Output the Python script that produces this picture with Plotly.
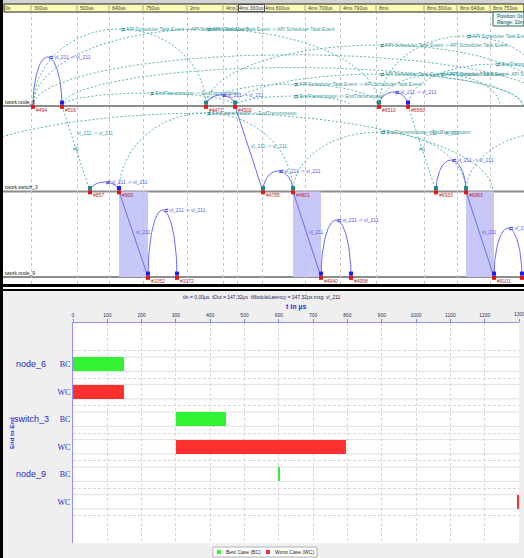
import numpy as np
import plotly.graph_objects as go

W, H = 524, 558

# ---------------- end-to-end latency (µs) ----------------
row_labels = ["BC", "WC", "BC", "WC", "BC", "WC"]
group_names = ["node_6", "switch_3", "node_9"]
bc_start = [0.0, 300.0, 598.0]
bc_len = [147.32, 147.32, 4.0]
wc_start = [0.0, 300.0, 1295.0]
wc_len = [147.32, 496.0, 4.0]
x_ticks = list(range(0, 1301, 100))
summary = "tIn = 0,00µs  tOut = 147,32µs  tModuleLatency = 147,32µs msg: vl_211"

# ---------------- trace strip ----------------
header_pos = [2, 31, 77, 109, 143, 187, 223, 237, 262, 305, 340, 376, 424, 457, 490]
header_txt = ["0s", "300us", "500us", "640us", "750us", "2ms", "4ms 34us", "4ms 300us",
              "4ms 600us", "4ms 700us", "4ms 790us", "8ms", "8ms 300us", "8ms 640us", "8ms 750us"]
lane_names = ["twork.node_6", "twork.switch_3", "twork.node_9"]

event_ids = ["#494", "#516", "#4477", "#4502", "#6510", "#6560",
             "#857", "#909", "#4785", "#4801", "#6933", "#6963",
             "#1052", "#1072", "#4940", "#4958", "#9101", "#9121"]
event_pos = [33, 62, 206, 235, 379, 408,
             90, 119, 263, 293, 436, 466,
             148, 177, 321, 351, 494, 522]
event_lane = [0, 0, 0, 0, 0, 0, 1, 1, 1, 1, 1, 1, 2, 2, 2, 2, 2, 2]
event_mark = ["", "b", "t", "t", "t", "b", "t", "b", "t", "t", "t", "t",
              "b", "b", "b", "b", "b", "b"]

# message arcs inside one lane (solid blue)
msg_arc_x0 = [33, 206, 379, 90, 263, 436, 148, 321, 494]
msg_arc_x1 = [62, 235, 408, 119, 293, 466, 177, 351, 522]
msg_arc_lane = [0, 0, 0, 1, 1, 1, 2, 2, 2]
msg_arc_top = [-0.573, -0.129, -0.164, 0.889, 0.760, 0.632, 1.216, 1.333, 1.427]

# message hops between lanes (solid blue)
hop_x0 = [235, 119, 293, 466]
hop_l0 = [0, 1, 1, 1]
hop_x1 = [263, 148, 321, 494]
hop_l1 = [1, 2, 2, 2]
hop_txt = ["vl_211 -> vl_211", "vl_211", "vl_211", "vl_211"]

# frame hops between lanes (dashed teal)
frame_x0 = [62, 408]
frame_x1 = [90, 436]
frame_l0 = [0, 0]
frame_l1 = [1, 1]

# scheduler / transmission event arcs (dashed teal)
ev_arc_x0 = [33, 33, 206, 379, 235, 379, 206, 235, 62, 408, 119, -80, 293, 466, 33, 62]
ev_arc_x1 = [206, 379, 552, 552, 523, 500, 379, 351, 235, 582, 293, 493, 466, 639, 552, 523]
ev_arc_lane = [0, 0, 0, 0, 0, 0, 0, 0, 0, 0, 1, 1, 1, 1, 0, 0]
ev_arc_top = [-0.901, -0.901, -0.713, -0.819, -0.374, -0.374, -0.257, -0.117, -0.152,
              -0.491, 0.082, 0.082, 0.304, 0.304, -0.60, -0.45]
API = "API Scheduler Task Event -> API Scheduler Task Event"
ETX = "EndTransmission -> EndTransmission"
ev_arc_txt = [API, API, API, API, API, API, API, ETX, ETX, ETX, ETX, "", ETX, "", "", ""]

TEAL = "#58b4b4"
BLUE = "#6a6aff"
FONT = "Liberation Sans"


def px(x):
    return x / W


def py(y):
    return 1 - y / H


def arc_xy(x0, x1, lane, top, n=70):
    t = np.linspace(np.pi, 0, n)
    cx, rx = (x0 + x1) / 2, (x1 - x0) / 2
    return cx + rx * np.cos(t), lane - (lane - top) * np.sin(t)


fig = go.Figure()
shapes = []
ann = []

# ---------- panel backgrounds & frames ----------
shapes += [
    dict(type="rect", xref="paper", yref="paper", x0=0, x1=1, y0=py(4), y1=1,
         fillcolor="#d4d4d4", line_width=0, layer="below"),
    dict(type="rect", xref="paper", yref="paper", x0=0, x1=1, y0=0, y1=py(291),
         fillcolor="#efefef", line_width=0, layer="below"),
    dict(type="rect", xref="paper", yref="paper", x0=px(73), x1=px(519), y0=py(543), y1=py(323),
         fillcolor="white", line_width=0, layer="below"),
    # black frame pieces
    dict(type="rect", xref="paper", yref="paper", x0=0, x1=1, y0=py(287), y1=py(284),
         fillcolor="black", line_width=0),
    dict(type="rect", xref="paper", yref="paper", x0=0, x1=1, y0=py(291), y1=py(289),
         fillcolor="black", line_width=0),
    # time header band
    dict(type="rect", xref="paper", yref="paper", x0=px(4), x1=1, y0=py(12), y1=py(4),
         fillcolor="#fbfbb4", line=dict(color="#202020", width=1)),
    # position box
    dict(type="rect", xref="paper", yref="paper", x0=px(493), x1=px(524), y0=py(26), y1=py(12),
         fillcolor="#f2fafa", line=dict(color="#3a6060", width=1)),
]
for p in header_pos[1:]:
    shapes.append(dict(type="line", xref="x2", yref="paper", x0=p, x1=p, y0=py(12), y1=py(4),
                       line=dict(color="#a8a890", width=1)))
for p, t in zip(header_pos, header_txt):
    extra = {}
    if t == "4ms 300us":
        extra = dict(bgcolor="#f6f6ec", bordercolor="#505050", borderwidth=1, borderpad=0)
    ann.append(dict(x=p + 1, y=py(8.3), xref="x2", yref="paper", text=t, showarrow=False,
                    xanchor="left", yanchor="middle", font=dict(family=FONT, size=5, color="#404030"),
                    **extra))
ann.append(dict(x=px(495), y=py(16), xref="paper", yref="paper", text="Position: 0s", showarrow=False,
                xanchor="left", yanchor="middle", font=dict(family=FONT, size=5, color="#204848")))
ann.append(dict(x=px(495), y=py(22.5), xref="paper", yref="paper", text="Range: 10ms 1", showarrow=False,
                xanchor="left", yanchor="middle", font=dict(family=FONT, size=5, color="#204848")))

# ---------- trace strip ----------
# shaded transfer windows switch -> node
for a, la, b, lb in zip(hop_x0[1:], hop_l0[1:], hop_x1[1:], hop_l1[1:]):
    shapes.append(dict(type="rect", xref="x2", yref="y2", x0=a, x1=b, y0=la, y1=lb,
                       fillcolor="#c8c8f8", line_width=0, layer="below"))
# lanes
for i, name in enumerate(lane_names):
    shapes.append(dict(type="line", xref="paper", yref="y2", x0=px(3), x1=1, y0=i, y1=i,
                       line=dict(color="#8c8c8c", width=2), layer="below"))
    ann.append(dict(x=3, y=i, xref="x2", yref="y2", yshift=4, text=name, showarrow=False,
                    xanchor="left", yanchor="middle", font=dict(family=FONT, size=5, color="#202020")))

# dashed event arcs
tx, ty = [], []
for a, b, l, tp, txt in zip(ev_arc_x0, ev_arc_x1, ev_arc_lane, ev_arc_top, ev_arc_txt):
    xs, ys = arc_xy(a, b, l, tp)
    tx += list(xs) + [None]
    ty += list(ys) + [None]
    if txt:
        ann.append(dict(x=(a + b) / 2 - 1, y=tp, xref="x2", yref="y2", text="⇄ " + txt, showarrow=False,
                        xanchor="left", yanchor="middle", font=dict(family=FONT, size=5, color="#3e9a9a")))
for a, b, la, lb in zip(frame_x0, frame_x1, frame_l0, frame_l1):
    tx += [a, b, None]
    ty += [la, lb, None]
    ann.append(dict(x=a + (b - a) * 0.32 + 4, y=la + (lb - la) * 0.32, xref="x2", yref="y2",
                    text="vl_211 -> vl_211", showarrow=False, xanchor="left", yanchor="middle",
                    font=dict(family=FONT, size=5, color="#3e9a9a")))
    ann.append(dict(x=a + (b - a) * 0.5, y=la + (lb - la) * 0.5, xref="x2", yref="y2",
                    text="#0", showarrow=False, xanchor="center", yanchor="middle",
                    font=dict(family=FONT, size=5, color="#3e9a9a")))
fig.add_trace(go.Scatter(x=tx, y=ty, mode="lines", xaxis="x2", yaxis="y2", hoverinfo="skip",
                         line=dict(color=TEAL, width=1, dash="2px,2px"), showlegend=False))

# solid message arcs and hops
bx, by = [], []
for a, b, l, tp in zip(msg_arc_x0, msg_arc_x1, msg_arc_lane, msg_arc_top):
    xs, ys = arc_xy(a, b, l, tp)
    bx += list(xs) + [None]
    by += list(ys) + [None]
    ann.append(dict(x=(a + b) / 2 - 1, y=tp, xref="x2", yref="y2", text="⇄ vl_211 -> vl_211",
                    showarrow=False, xanchor="left", yanchor="middle",
                    font=dict(family=FONT, size=5, color="#5a5af0")))
for a, la, b, lb, txt in zip(hop_x0, hop_l0, hop_x1, hop_l1, hop_txt):
    bx += [a, b, None]
    by += [la, lb, None]
    ann.append(dict(x=a + (b - a) * 0.47 + 1, y=la + (lb - la) * 0.47, xref="x2", yref="y2",
                    text=txt, showarrow=False, xanchor="left", yanchor="middle",
                    font=dict(family=FONT, size=5, color="#5a5af0" if txt == "vl_211" else "#3e9a9a")))
fig.add_trace(go.Scatter(x=bx, y=by, mode="lines", xaxis="x2", yaxis="y2", hoverinfo="skip",
                         line=dict(color=BLUE, width=1), showlegend=False))

# event markers
mk = {"b": "#1c1cff", "t": "#1a8a8a"}
ax_, ay_, ac_ = [], [], []
for p, l, m in zip(event_pos, event_lane, event_mark):
    if m:
        ax_.append(p)
        ay_.append(l - 0.04)
        ac_.append(mk[m])
fig.add_trace(go.Scatter(x=ax_, y=ay_, mode="markers", xaxis="x2", yaxis="y2", hoverinfo="skip",
                         marker=dict(symbol="square", size=4, color=ac_), showlegend=False))
fig.add_trace(go.Scatter(x=event_pos, y=[l + 0.01 for l in event_lane], mode="markers",
                         xaxis="x2", yaxis="y2", hoverinfo="skip",
                         marker=dict(symbol="square", size=4, color="#e01818"), showlegend=False))
for eid, p, l in zip(event_ids, event_pos, event_lane):
    ann.append(dict(x=p + 1, y=l, xref="x2", yref="y2", yshift=-4, text=eid, showarrow=False,
                    xanchor="left", yanchor="middle", font=dict(family=FONT, size=5, color="#b82828")))

# ---------- end-to-end chart ----------
bc_rows = [1, 3, 5]
wc_rows = [2, 4, 6]
for r in range(1, len(row_labels) + 1):
    for d in (-0.26, 0.26):
        shapes.append(dict(type="line", xref="x", yref="y", x0=0, x1=1300, y0=r + d, y1=r + d,
                           line=dict(color="#e0e0e0", width=1), layer="below"))

fig.add_trace(go.Bar(orientation="h", y=bc_rows, x=bc_len, base=bc_start, width=0.5,
                     marker=dict(color="#33f233", line_width=0), name="Best Case (BC)",
                     showlegend=False, hoverinfo="skip"))
fig.add_trace(go.Bar(orientation="h", y=wc_rows, x=wc_len, base=wc_start, width=0.5,
                     marker=dict(color="#ff3030", line_width=0), name="Worst Case (WC)",
                     showlegend=False, hoverinfo="skip"))

for g, r in zip(group_names, bc_rows):
    ann.append(dict(x=px(31), y=r, xref="paper", yref="y", text=g, showarrow=False,
                    xanchor="center", yanchor="middle", font=dict(family=FONT, size=9, color="#2a2ad0")))
ann.append(dict(x=px(262), y=py(296.5), xref="paper", yref="paper", text=summary, showarrow=False,
                xanchor="center", yanchor="middle", font=dict(family=FONT, size=5, color="#20206a")))
ann.append(dict(x=px(296), y=py(306.5), xref="paper", yref="paper", text="<b>t in µs</b>",
                showarrow=False, xanchor="center", yanchor="middle",
                font=dict(family=FONT, size=7, color="#2a2ae0")))
ann.append(dict(x=px(12), y=py(433), xref="paper", yref="paper", text="<b>End to End</b>",
                textangle=-90, showarrow=False, xanchor="center", yanchor="middle",
                font=dict(family=FONT, size=6, color="#2a2ae0")))
# last tick label sits on the right edge of the page
ann.append(dict(x=x_ticks[-1], y=py(314), xref="x", yref="paper", text=str(x_ticks[-1]),
                showarrow=False, xanchor="center", yanchor="middle",
                font=dict(family=FONT, size=5, color="#303060")))

# legend box
shapes += [
    dict(type="rect", xref="paper", yref="paper", x0=px(213), x1=px(317), y0=py(557), y1=py(547),
         fillcolor="white", line=dict(color="#b4b4b4", width=1)),
    dict(type="rect", xref="paper", yref="paper", x0=px(217), x1=px(221), y0=py(554), y1=py(550),
         fillcolor="#33f233", line_width=0),
    dict(type="rect", xref="paper", yref="paper", x0=px(266), x1=px(270), y0=py(554), y1=py(550),
         fillcolor="#ff3030", line_width=0),
]
ann.append(dict(x=px(224), y=py(552), xref="paper", yref="paper", text="Best Case (BC)", showarrow=False,
                xanchor="left", yanchor="middle", font=dict(family=FONT, size=5, color="#202020")))
ann.append(dict(x=px(273), y=py(552), xref="paper", yref="paper", text="Worst Case (WC)", showarrow=False,
                xanchor="left", yanchor="middle", font=dict(family=FONT, size=5, color="#202020")))

fig.update_layout(
    width=W, height=H, autosize=False,
    margin=dict(l=0, r=0, t=0, b=0),
    paper_bgcolor="white", plot_bgcolor="rgba(0,0,0,0)",
    bargap=0, barmode="overlay",
    shapes=shapes, annotations=ann,
    xaxis=dict(domain=[px(73), px(519)], range=[0, 1300], side="top", anchor="y",
               tickmode="array", tickvals=x_ticks,
               ticktext=[str(v) for v in x_ticks[:-1]] + [""],
               tickfont=dict(family=FONT, size=5, color="#303060"),
               ticks="outside", ticklen=3, tickcolor="#8080ff",
               showline=True, linecolor="#9090ff", linewidth=1,
               showgrid=True, gridcolor="#d8d8d8", griddash="3px,2px", zeroline=False, fixedrange=True),
    yaxis=dict(domain=[py(543), py(323)], range=[7.5, -0.5], anchor="x",
               tickmode="array", tickvals=list(range(1, 7)), ticktext=row_labels,
               tickfont=dict(family="Liberation Serif", size=8, color="#2a2ad0"),
               ticks="", showline=True, linecolor="#9090ff", linewidth=1,
               showgrid=False, zeroline=False, fixedrange=True,
               minor=dict(tickmode="array", tickvals=[k + 0.5 for k in range(8)],
                          showgrid=True, gridcolor="#d8d8d8", griddash="3px,2px", ticks="")),
    yaxis3=dict(overlaying="y", anchor="x", side="left", range=[7.5, -0.5],
                tickmode="array", tickvals=[0.5, 2.5, 4.5, 6.5, 7.5], showticklabels=False,
                ticks="outside", ticklen=4, tickcolor="#8080ff", showgrid=False,
                showline=False, zeroline=False, fixedrange=True),
    xaxis2=dict(domain=[0, 1], range=[0, W], anchor="y2", tickmode="array", tickvals=header_pos[1:],
                showticklabels=False, ticks="", showline=False, zeroline=False,
                showgrid=True, gridcolor="#c4c4c4", griddash="dot", fixedrange=True),
    yaxis2=dict(domain=[py(287), py(5)], range=[2.117, -1.181], anchor="x2",
                visible=False, fixedrange=True),
)
# black left edge of the whole window
fig.add_shape(type="rect", xref="paper", yref="paper", x0=0, x1=px(3), y0=0, y1=1,
              fillcolor="black", line_width=0)

fig.write_html("out.html")
